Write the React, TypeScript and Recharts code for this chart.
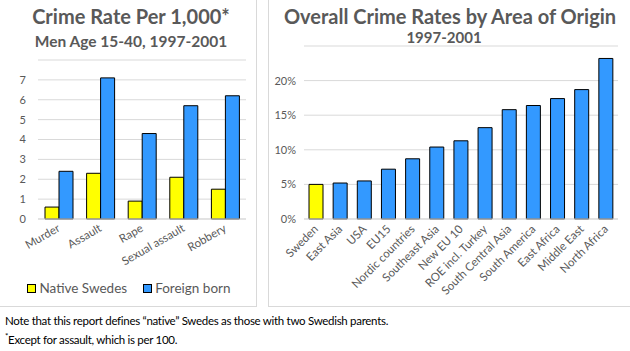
import React from 'react';
import { BarChart, Bar, XAxis, YAxis, CartesianGrid, Cell } from 'recharts';

const crimeTypes = ['Murder', 'Assault', 'Rape', 'Sexual assault', 'Robbery'];
const nativeSwedes = [0.6, 2.3, 0.9, 2.1, 1.5];
const foreignBorn = [2.4, 7.1, 4.3, 5.7, 6.2];
const leftTicks = [0, 1, 2, 3, 4, 5, 6, 7];

const origins = [
  'Sweden', 'East Asia', 'USA', 'EU15', 'Nordic countries', 'Southeast Asia', 'New EU 10',
  'ROE incl. Turkey', 'South Central Asia', 'South America', 'East Africa', 'Middle East', 'North Africa',
];
const originRates = [5.0, 5.2, 5.5, 7.2, 8.7, 10.4, 11.3, 13.2, 15.8, 16.4, 17.4, 18.7, 23.2];
const rightTicks = [0, 5, 10, 15, 20];

const seriesNames = ['Native Swedes', 'Foreign born'];

const YELLOW = '#FFFF00';
const BLUE = '#3399FF';
const GREY = '#595959';
const GRID = '#D9D9D9';
const FONT = 'Lato, "Open Sans", sans-serif';

const leftData = crimeTypes.map((c, i) => ({ name: c, native: nativeSwedes[i], foreign: foreignBorn[i] }));
const rightData = origins.map((o, i) => ({ name: o, rate: originRates[i] }));

function AngledTick({ x, y, payload, angle }: any) {
  return (
    <g transform={`translate(${x},${y})`}>
      <text x={0} y={0} dy={4} textAnchor="end" fill={GREY} fontSize={11.5} fontFamily={FONT} transform={`rotate(${angle})`}>
        {payload.value}
      </text>
    </g>
  );
}

const panel: React.CSSProperties = {
  position: 'absolute',
  top: -1,
  height: 308,
  border: `1px solid ${GRID}`,
  boxSizing: 'border-box',
  background: '#fff',
};

export default function App() {
  return (
    <div style={{ position: 'absolute', left: 0, top: 0, width: 630, height: 351, background: '#fff', fontFamily: FONT, overflow: 'hidden' }}>
      {/* left panel */}
      <div style={{ ...panel, left: -1, width: 258 }}>
        <div style={{ position: 'absolute', top: 4, left: 2, width: 258, textAlign: 'center', color: GREY, fontWeight: 700, fontSize: 20 }}>
          Crime Rate Per 1,000*
        </div>
        <div style={{ position: 'absolute', top: 32, left: 2, width: 258, textAlign: 'center', color: GREY, fontWeight: 700, fontSize: 15.5 }}>
          Men Age 15-40, 1997-2001
        </div>
        <div style={{ position: 'absolute', left: 0, top: 0 }}>
          <BarChart width={257} height={307} data={leftData} margin={{ top: 60, right: 11, bottom: 0, left: 0 }} barGap={0} barSize={14}>
            <CartesianGrid vertical={false} stroke={GRID} />
            <XAxis dataKey="name" interval={0} height={88} tickLine={false} axisLine={{ stroke: GRID }}
              tick={(p: any) => <AngledTick {...p} angle={-30} />} />
            <YAxis width={38} domain={[0, 8]} ticks={leftTicks} interval={0} tickLine={false} axisLine={false} tickMargin={6}
              tick={{ fill: GREY, fontSize: 11, fontFamily: FONT }} />
            <Bar dataKey="native" fill={YELLOW} stroke="#000" strokeWidth={1} isAnimationActive={false} />
            <Bar dataKey="foreign" fill={BLUE} stroke="#000" strokeWidth={1} isAnimationActive={false} />
          </BarChart>
        </div>
        <div style={{ position: 'absolute', top: 280, left: 0, width: 258, display: 'flex', justifyContent: 'center', gap: 16, fontSize: 13.5, color: GREY }}>
          {seriesNames.map((s, i) => (
            <span key={s} style={{ display: 'flex', alignItems: 'center' }}>
              <span style={{ display: 'inline-block', width: 7, height: 7, background: i === 0 ? YELLOW : BLUE, border: '1px solid #000', marginRight: 3 }} />
              {s}
            </span>
          ))}
        </div>
      </div>

      {/* right panel */}
      <div style={{ ...panel, left: 268, width: 363 }}>
        <div style={{ position: 'absolute', top: 4, left: 0, width: 362, textAlign: 'center', color: GREY, fontWeight: 700, fontSize: 20 }}>
          Overall Crime Rates by Area of Origin
        </div>
        <div style={{ position: 'absolute', top: 28, left: -6, width: 362, textAlign: 'center', color: GREY, fontWeight: 700, fontSize: 15 }}>
          1997-2001
        </div>
        <div style={{ position: 'absolute', left: 0, top: 0 }}>
          <BarChart width={361} height={307} data={rightData} margin={{ top: 46, right: 12, bottom: 0, left: 0 }} barSize={14}>
            <CartesianGrid vertical={false} stroke={GRID} />
            <XAxis dataKey="name" interval={0} height={88} tickLine={false} axisLine={{ stroke: GRID }}
              tick={(p: any) => <AngledTick {...p} angle={-45} />} />
            <YAxis width={35} domain={[0, 25]} ticks={rightTicks} interval={0} tickLine={false} axisLine={false}
              tickFormatter={(v: number) => `${v}%`} tick={{ fill: GREY, fontSize: 11, fontFamily: FONT }} />
            <Bar dataKey="rate" stroke="#000" strokeWidth={1} isAnimationActive={false}>
              {rightData.map((d, i) => (
                <Cell key={d.name} fill={i === 0 ? YELLOW : BLUE} />
              ))}
            </Bar>
          </BarChart>
        </div>
      </div>

      {/* notes */}
      <div style={{ position: 'absolute', left: 5, top: 314, fontSize: 11.5, letterSpacing: -0.3, color: '#000', whiteSpace: 'nowrap' }}>
        Note that this report defines “native” Swedes as those with two Swedish parents.
      </div>
      <div style={{ position: 'absolute', left: 5, top: 331, fontSize: 11.5, letterSpacing: -0.3, color: '#000', whiteSpace: 'nowrap' }}>
        <span style={{ fontSize: 8, verticalAlign: 'super' }}>*</span>Except for assault, which is per 100.
      </div>
    </div>
  );
}
